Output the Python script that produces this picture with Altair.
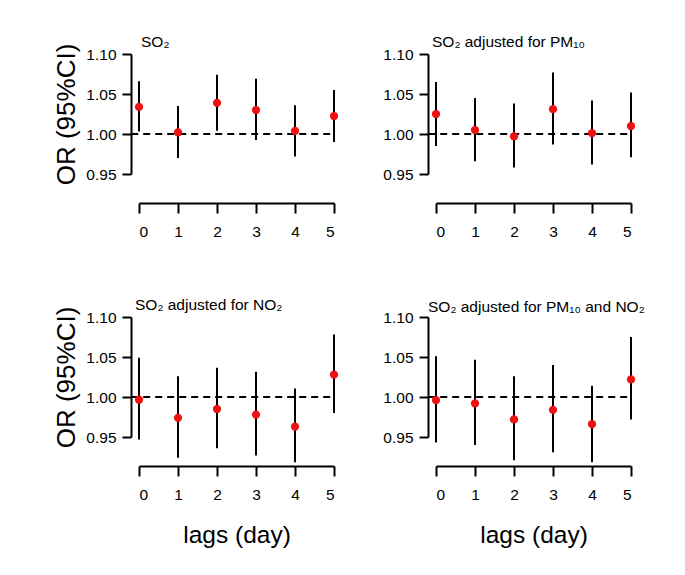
import altair as alt
import pandas as pd

FONT = "Liberation Sans, Arial, Helvetica, sans-serif"

LAGS = [0, 1, 2, 3, 4, 5]

TITLES = ["SO₂", "SO₂ adjusted for PM₁₀", "SO₂ adjusted for NO₂", "SO₂ adjusted for PM₁₀ and NO₂"]

OR_SO2 = [1.034, 1.002, 1.039, 1.030, 1.004, 1.0225]
LO_SO2 = [1.003, 0.970, 1.004, 0.9925, 0.972, 0.990]
HI_SO2 = [1.066, 1.035, 1.074, 1.069, 1.036, 1.055]

OR_PM = [1.025, 1.005, 0.997, 1.031, 1.001, 1.010]
LO_PM = [0.985, 0.966, 0.958, 0.987, 0.962, 0.971]
HI_PM = [1.065, 1.045, 1.038, 1.077, 1.042, 1.052]

OR_NO2 = [0.9966, 0.974, 0.985, 0.978, 0.963, 1.028]
LO_NO2 = [0.947, 0.924, 0.936, 0.927, 0.9185, 0.980]
HI_NO2 = [1.049, 1.026, 1.0366, 1.0315, 1.0105, 1.078]

OR_BOTH = [0.996, 0.992, 0.972, 0.984, 0.966, 1.022]
LO_BOTH = [0.943, 0.940, 0.921, 0.931, 0.9185, 0.972]
HI_BOTH = [1.051, 1.0466, 1.026, 1.040, 1.014, 1.075]

Y_TICKS = [0.95, 1.00, 1.05, 1.10]
REF_X = [-0.2, 5.0]
REF_Y = 1.0

X_TITLE = "lags (day)"
Y_TITLE = "OR (95%CI)"

W, H = 195, 120


def panel(title, ors, los, his, show_y, show_x, dx, tdy):
    df = pd.DataFrame({"lag": LAGS, "or": ors, "lo": los, "hi": his})
    ref = pd.DataFrame({"x0": [REF_X[0]], "x1": [REF_X[1]], "y": [REF_Y]})
    xt = X_TITLE if show_x else None
    yt = Y_TITLE if show_y else None
    xaxis = alt.Axis(values=LAGS, format="d", offset=29, tickSize=10, tickWidth=2,
                     domainWidth=2, domainColor="black", tickColor="black",
                     labelPadding=11, labelFontSize=15.5, labelFont=FONT, labelColor="black",
                     titleFont=FONT, titleFontSize=24.5, titleFontWeight="normal",
                     titleColor="black", titlePadding=21, grid=False)
    yaxis = alt.Axis(values=Y_TICKS, format=".2f", offset=8, tickSize=9, tickWidth=2,
                     domainWidth=2, domainColor="black", tickColor="black",
                     labelPadding=6, labelFontSize=15.5, labelFont=FONT, labelColor="black",
                     titleFont=FONT, titleFontSize=26, titleFontWeight="normal",
                     titleColor="black", titlePadding=6, grid=False)
    xs = alt.Scale(domain=[0, 5], nice=False, zero=False)
    ys = alt.Scale(domain=[0.95, 1.10], nice=False, zero=False)

    bars = alt.Chart(df).mark_rule(color="black", strokeWidth=2).encode(
        x=alt.X("lag:Q", scale=xs, axis=xaxis, title=xt),
        y=alt.Y("lo:Q", scale=ys, axis=yaxis, title=yt),
        y2="hi:Q",
    )
    refline = alt.Chart(ref).mark_rule(color="black", strokeWidth=2, strokeDash=[7, 5]).encode(
        x=alt.X("x0:Q", scale=xs, axis=xaxis, title=xt),
        x2="x1:Q",
        y=alt.Y("y:Q", scale=ys, axis=yaxis, title=yt),
    )
    pts = alt.Chart(df).mark_point(filled=True, shape="circle", size=68, color="#ee1111",
                                   opacity=1).encode(
        x=alt.X("lag:Q", scale=xs, axis=xaxis, title=xt),
        y=alt.Y("or:Q", scale=ys, axis=yaxis, title=yt),
    )
    return alt.layer(bars, refline, pts).properties(
        width=W, height=H,
        title=alt.TitleParams(text=title, anchor="start", frame="group", fontSize=15.5,
                              font=FONT, fontWeight="normal", color="black", dx=dx, dy=tdy,
                              offset=-7),
    )


p1 = panel(TITLES[0], OR_SO2, LO_SO2, HI_SO2, True, False, 2, 0)
p2 = panel(TITLES[1], OR_PM, LO_PM, HI_PM, False, False, -4, -4)
p3 = panel(TITLES[2], OR_NO2, LO_NO2, HI_NO2, True, True, -4, 0)
p4 = panel(TITLES[3], OR_BOTH, LO_BOTH, HI_BOTH, False, True, -8, -2)

chart = alt.vconcat(
    alt.hconcat(p1, p2, spacing=43),
    alt.hconcat(p3, p4, spacing=43),
    spacing=57,
).properties(
    padding={"left": 45, "top": 26, "right": 5, "bottom": 5},
    background="white",
).configure_view(stroke=None)

chart.save("out.html", embed_options={"renderer": "svg", "actions": False})
